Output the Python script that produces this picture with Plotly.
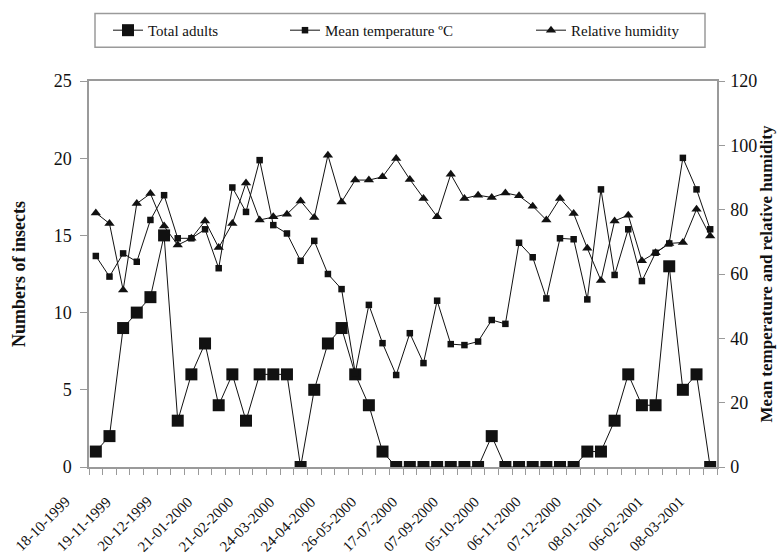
import plotly.graph_objects as go

# ---- data ----
date_labels = ["18-10-1999", "19-11-1999", "20-12-1999", "21-01-2000", "21-02-2000",
               "24-03-2000", "24-04-2000", "26-05-2000", "17-07-2000", "07-09-2000",
               "05-10-2000", "06-11-2000", "07-12-2000", "08-01-2001", "06-02-2001",
               "08-03-2001"]

total_adults = [1, 2, 9, 10, 11, 15, 3, 6, 8, 4, 6, 3, 6, 6, 6, 0, 5, 8, 9, 6, 4, 1,
                0, 0, 0, 0, 0, 0, 0, 2, 0, 0, 0, 0, 0, 0, 1, 1, 3, 6, 4, 4, 13, 5, 6, 0]

mean_temperature = [65.6, 59.2, 66.4, 63.8, 76.8, 84.5, 71.1, 71.1, 73.9, 61.8, 86.9, 79.3,
                    95.4, 75.2, 72.6, 64.1, 70.3, 60.0, 55.3, 29.2, 50.4, 38.5, 28.6, 41.6,
                    32.3, 51.7, 38.2, 37.9, 39.0, 45.7, 44.5, 69.7, 65.2, 52.4, 71.1, 70.8,
                    52.1, 86.3, 59.7, 73.9, 57.8, 66.6, 69.5, 96.1, 86.3, 73.9]

relative_humidity = [79.0, 75.7, 55.0, 81.9, 85.0, 74.9, 69.0, 71.1, 76.5, 68.2, 75.7, 88.3,
                     76.8, 77.8, 78.6, 82.7, 77.6, 96.9, 82.4, 89.2, 89.2, 90.2, 95.9, 89.4,
                     83.5, 77.8, 91.0, 83.5, 84.5, 83.8, 85.2, 84.3, 81.1, 76.8, 83.5, 78.8,
                     68.0, 58.0, 76.5, 78.3, 64.1, 66.6, 69.5, 69.8, 80.1, 71.8]

left_ticks = [0, 5, 10, 15, 20, 25]
right_ticks = [0, 20, 40, 60, 80, 100, 120]

n = len(total_adults)
xs = list(range(n))
label_pos = list(range(0, n, 3))
boundaries = [k - 0.5 for k in range(n + 1)]

FONT = "Liberation Serif"
INK = "#111111"
AX = "#9a9a9a"

fig = go.Figure()

fig.add_trace(go.Scatter(
    x=xs, y=mean_temperature, yaxis="y2", mode="lines+markers",
    name="Mean temperature \u00baC", legend="legend2",
    line=dict(color=INK, width=1),
    marker=dict(symbol="square", size=6.5, color=INK)))

fig.add_trace(go.Scatter(
    x=xs, y=relative_humidity, yaxis="y2", mode="lines+markers",
    name="Relative humidity", legend="legend3",
    line=dict(color=INK, width=1),
    marker=dict(symbol="triangle-up", size=9, color=INK)))

fig.add_trace(go.Scatter(
    x=xs, y=total_adults, yaxis="y", mode="lines+markers",
    name="Total adults", legend="legend",
    line=dict(color=INK, width=1),
    marker=dict(symbol="square", size=12, color=INK)))

rng_x = [-0.5, n - 0.5]

# rotated date labels under every third sampling point
date_annotations = [
    dict(x=p, y=0, xref="x", yref="paper", text=t, showarrow=False,
         textangle=-45, xanchor="right", yanchor="top", xshift=-20, yshift=-24,
         font=dict(family=FONT, size=15, color=INK))
    for p, t in zip(label_pos, date_labels)
]

legend_common = dict(orientation="h", yanchor="middle", y=1.131, xanchor="left",
                     bgcolor="rgba(0,0,0,0)", borderwidth=0,
                     font=dict(family=FONT, size=15, color=INK))

fig.update_layout(
    width=781, height=555,
    margin=dict(l=89, r=64, t=81, b=88, autoexpand=False),
    paper_bgcolor="white", plot_bgcolor="white",
    font=dict(family=FONT, color=INK),
    xaxis=dict(
        range=rng_x, tickmode="array", tickvals=label_pos,
        showticklabels=False, ticks="", automargin=False,
        showline=True, linecolor=AX, linewidth=1.5, mirror=True,
        showgrid=False, zeroline=False,
        minor=dict(tickmode="array", tickvals=boundaries, ticks="outside",
                   ticklen=6, tickcolor=AX, tickwidth=1)),
    xaxis2=dict(
        overlaying="x", anchor="y", side="bottom", range=rng_x, automargin=False,
        tickmode="array", tickvals=boundaries, ticks="inside", ticklen=6,
        tickcolor=AX, tickwidth=1, showticklabels=False, showline=False,
        showgrid=False, zeroline=False),
    yaxis=dict(
        range=[0, 25], tickmode="array", tickvals=left_ticks, automargin=False,
        ticks="outside", ticklen=7, tickcolor=AX, tickwidth=1.2,
        tickfont=dict(family=FONT, size=18, color=INK), ticklabelstandoff=5,
        showline=True, linecolor=AX, linewidth=1.5,
        showgrid=False, zeroline=False,
        title=dict(text="Numbers of insects", standoff=23,
                   font=dict(family=FONT, size=18, color=INK, weight="bold"))),
    yaxis3=dict(
        overlaying="y", anchor="x", side="left", range=[0, 25], automargin=False,
        tickmode="array", tickvals=left_ticks, ticks="inside", ticklen=6,
        tickcolor=AX, tickwidth=1.2, showticklabels=False, showline=False,
        showgrid=False, zeroline=False),
    yaxis2=dict(
        overlaying="y", side="right", anchor="x", range=[0, 120], automargin=False,
        tickmode="array", tickvals=right_ticks,
        ticks="outside", ticklen=6, tickcolor=AX, tickwidth=1.2,
        tickfont=dict(family=FONT, size=18, color=INK), ticklabelstandoff=2,
        showline=True, linecolor=AX, linewidth=1.5,
        showgrid=False, zeroline=False,
        title=dict(text="Mean temperature and relative humidity", standoff=2,
                   font=dict(family=FONT, size=17, color=INK, weight="bold"))),
    legend=dict(x=(108 - 89) / 628, **legend_common),
    legend2=dict(x=(285 - 89) / 628, **legend_common),
    legend3=dict(x=(531 - 89) / 628, **legend_common),
    annotations=date_annotations,
    shapes=[dict(type="rect", xref="paper", yref="paper",
                 x0=(95 - 89) / 628, x1=(705 - 89) / 628,
                 y0=(467.3 - 47) / 386.6, y1=(467.3 - 13) / 386.6,
                 line=dict(color=AX, width=1.5), fillcolor="rgba(0,0,0,0)",
                 layer="below")],
    showlegend=True,
)

fig.write_html("out.html",
               config={"displayModeBar": False},
               post_script="document.body.style.margin='0px';document.body.style.padding='0px';")
